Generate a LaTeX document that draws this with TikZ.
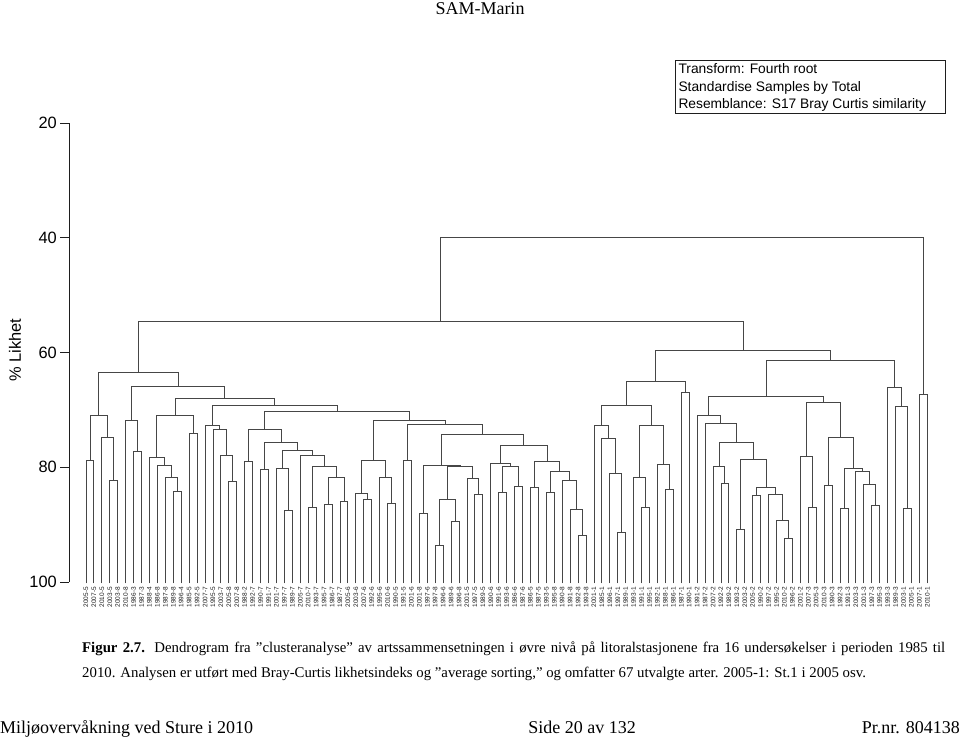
\documentclass[tikz,border=0pt]{standalone}
\usepackage{fontspec}
\setmainfont{Liberation Serif}
\setsansfont{Liberation Sans}
\usepackage{tikz}
\usetikzlibrary{calc}
\definecolor{dendline}{RGB}{70,70,70}
\definecolor{axisdark}{RGB}{30,30,30}
\tikzset{
  dendro/.style={draw=dendline, line width=0.9pt, line cap=rect},
  axisline/.style={draw=axisdark, line width=0.8pt},
  leaflabel/.style={font=\sffamily\fontsize{6.5}{7}\selectfont, rotate=90,
    anchor=east, inner sep=0pt, text=axisdark},
  ticklabel/.style={font=\sffamily\fontsize{16.4}{19}\selectfont, anchor=east,
    inner sep=0pt},
  legendtext/.style={font=\sffamily\fontsize{13.8}{17.5}\selectfont, align=left,
    inner sep=0pt, anchor=north west},
  pagetext/.style={font=\fontsize{18}{21}\selectfont, inner sep=0pt}
}
% one merge of the dendrogram: name, left child, right child, level (px from top)
\newcommand{\dmerge}[4]{%
  \coordinate (lev) at (0,#4);
  \draw[dendro] (#2) -- (#2 |- lev) -- (#3 |- lev) -- (#3);
  \coordinate (#1) at ($(#2 |- lev)!0.5!(#3 |- lev)$);
}

\begin{document}
\begin{tikzpicture}[x=1pt, y=-1pt]
  \fill[white] (0,0) rectangle (960,736);
  \useasboundingbox (0,0) rectangle (960,736);

  % ── page head ─────────────────────────────────────────────────────────────
  \node[pagetext, anchor=base] (header) at (480,14) {SAM-Marin};

  % ── legend box ────────────────────────────────────────────────────────────
  \node[draw=axisdark, line width=0.8pt, minimum width=270pt, minimum height=52.7pt,
        anchor=north west, inner sep=0pt] (legend) at (675,60) {};
  \node[legendtext] (legendtxt) at ([xshift=3.3pt,yshift=-3.3pt]legend.north west)
    {Transform: Fourth root\\Standardise Samples by Total\\Resemblance: S17 Bray Curtis similarity};

  % ── axis ──────────────────────────────────────────────────────────────────
  \draw[axisline] (69.3,123) -- (69.3,582);
  \foreach \v [count=\k from 0] in {20,40,60,80,100} {
    \draw[axisline] (60,{123+114.75*\k}) -- (69.3,{123+114.75*\k});
    \node[ticklabel] (t\v) at (57,{123+114.75*\k}) {\v};
  }
  \node[font=\sffamily\fontsize{16.4}{19}\selectfont, rotate=90, inner sep=0pt] (ylab) at (15,350) {\% Likhet};

  % ── leaves ────────────────────────────────────────────────────────────────
  \foreach \lab [count=\i from 0] in {
      2005-5,2007-5,2010-5,2003-5,2003-8,2010-8,1986-3,1987-3,1988-4,1986-8,
      1987-8,1989-8,1996-4,1985-5,1992-5,2007-7,1995-5,2003-7,2005-8,2007-8,
      1988-2,1992-7,1990-7,1991-7,2001-7,1997-7,1989-7,2005-7,2010-7,1993-7,
      1995-7,1986-7,1987-7,2005-6,2003-6,2007-6,1992-6,1995-6,2010-6,1990-5,
      1991-5,2001-6,2001-8,1997-6,1997-8,1996-6,1989-6,1996-8,2001-5,1997-5,
      1989-5,1990-6,1991-6,1993-6,1986-6,1987-6,1986-5,1987-5,1993-5,1995-8,
      1990-8,1991-8,1992-8,1993-8,2001-1,1985-1,1996-1,1997-1,1989-1,1993-1,
      1991-1,1995-1,1992-1,1988-1,1986-1,1987-1,1990-1,1991-2,1987-2,2007-2,
      1992-2,1989-2,1993-2,2003-2,2005-2,1990-2,1997-2,1995-2,2010-2,1996-2,
      2001-2,2007-3,2005-3,2010-3,1990-3,1992-3,1991-3,2003-3,2001-3,1997-3,
      1995-3,1993-3,1989-3,2003-1,2005-1,2007-1,2010-1} {
    \coordinate (n\i) at ({86+7.937*\i},583);
    \node[leaflabel] (l\i) at ({86+7.937*\i},587) {\lab};
  }

  % ── left cluster ──────────────────────────────────────────────────────────
  \dmerge{m01}{n0}{n1}{460}
  \dmerge{m34}{n3}{n4}{480}
  \dmerge{m234}{n2}{m34}{437.7}
  \dmerge{mA}{m01}{m234}{415}
  \dmerge{m67}{n6}{n7}{451.7}
  \dmerge{mB}{n5}{m67}{420}
  \dmerge{m1112}{n11}{n12}{491.7}
  \dmerge{m1012}{n10}{m1112}{477.3}
  \dmerge{m912}{n9}{m1012}{465}
  \dmerge{m812}{n8}{m912}{457.7}
  \dmerge{m1314}{n13}{n14}{433.3}
  \dmerge{mC}{m812}{m1314}{415}
  \dmerge{m1819}{n18}{n19}{481.7}
  \dmerge{m1719}{n17}{m1819}{455.7}
  \dmerge{m1619}{n16}{m1719}{429.3}
  \dmerge{m1519}{n15}{m1619}{425}
  \dmerge{m2021}{n20}{n21}{461}
  \dmerge{m2223}{n22}{n23}{469}
  \dmerge{m2526}{n25}{n26}{510}
  \dmerge{m2426}{n24}{m2526}{468.3}
  \dmerge{m2829}{n28}{n29}{507.7}
  \dmerge{m3031}{n30}{n31}{504}
  \dmerge{m3233}{n32}{n33}{501.7}
  \dmerge{m3033}{m3031}{m3233}{477}
  \dmerge{m2833}{m2829}{m3033}{466.7}
  \dmerge{m2733}{n27}{m2833}{455.7}
  \dmerge{m2433}{m2426}{m2733}{450}
  \dmerge{m2233}{m2223}{m2433}{442.7}
  \dmerge{mW1}{m2021}{m2233}{429}
  \dmerge{m3536}{n35}{n36}{499.3}
  \dmerge{m3436}{n34}{m3536}{493.3}
  \dmerge{m3839}{n38}{n39}{503}
  \dmerge{m3739}{n37}{m3839}{477.3}
  \dmerge{m3439}{m3436}{m3739}{460.7}
  \dmerge{m4041}{n40}{n41}{460}
  \dmerge{m4243}{n42}{n43}{513.3}
  \dmerge{m4445}{n44}{n45}{545}
  \dmerge{m4647}{n46}{n47}{521}
  \dmerge{m4447}{m4445}{m4647}{499}
  \dmerge{m4950}{n49}{n50}{494.3}
  \dmerge{m4850}{n48}{m4950}{478.3}
  \dmerge{m4450}{m4447}{m4850}{466}
  \dmerge{m4250}{m4243}{m4450}{465.3}
  \dmerge{m5253}{n52}{n53}{492.7}
  \dmerge{m5455}{n54}{n55}{486.7}
  \dmerge{m5255}{m5253}{m5455}{466.7}
  \dmerge{m5155}{n51}{m5255}{463.3}
  \dmerge{m5657}{n56}{n57}{487.3}
  \dmerge{m5859}{n58}{n59}{492.7}
  \dmerge{m6263}{n62}{n63}{535.3}
  \dmerge{m6163}{n61}{m6263}{509.3}
  \dmerge{m6063}{n60}{m6163}{480.7}
  \dmerge{m5863}{m5859}{m6063}{471}
  \dmerge{m5663}{m5657}{m5863}{461}
  \dmerge{m5163}{m5155}{m5663}{445}
  \dmerge{m4263}{m4250}{m5163}{434.3}
  \dmerge{m4063}{m4041}{m4263}{424.3}
  \dmerge{mW2}{m3439}{m4063}{420}
  \dmerge{mZ}{mW1}{mW2}{411}
  \dmerge{mY}{m1519}{mZ}{405}
  \dmerge{mX}{mC}{mY}{398.3}
  \dmerge{mBX}{mB}{mX}{386.7}
  \dmerge{mL}{mA}{mBX}{372.3}

  % ── right cluster ─────────────────────────────────────────────────────────
  \dmerge{m6768}{n67}{n68}{532.7}
  \dmerge{m6668}{n66}{m6768}{473.3}
  \dmerge{m6568}{n65}{m6668}{438.7}
  \dmerge{m6468}{n64}{m6568}{425.7}
  \dmerge{m7071}{n70}{n71}{507.3}
  \dmerge{m6971}{n69}{m7071}{477.3}
  \dmerge{m7374}{n73}{n74}{489.7}
  \dmerge{m7274}{n72}{m7374}{464.3}
  \dmerge{m6974}{m6971}{m7274}{425}
  \dmerge{m6474}{m6468}{m6974}{405}
  \dmerge{m7576}{n75}{n76}{392.3}
  \dmerge{m6476}{m6474}{m7576}{381}
  \dmerge{m8081}{n80}{n81}{483.3}
  \dmerge{m7981}{n79}{m8081}{466}
  \dmerge{m8283}{n82}{n83}{529}
  \dmerge{m8485}{n84}{n85}{495.7}
  \dmerge{m8889}{n88}{n89}{538}
  \dmerge{m8789}{n87}{m8889}{520}
  \dmerge{m8689}{n86}{m8789}{494.3}
  \dmerge{m8489}{m8485}{m8689}{487.7}
  \dmerge{m8289}{m8283}{m8489}{459}
  \dmerge{m7989}{m7981}{m8289}{442.7}
  \dmerge{m7889}{n78}{m7989}{423.3}
  \dmerge{m7789}{n77}{m7889}{415}
  \dmerge{m9192}{n91}{n92}{507.7}
  \dmerge{m9092}{n90}{m9192}{456}
  \dmerge{m9394}{n93}{n94}{485.7}
  \dmerge{m9596}{n95}{n96}{508.7}
  \dmerge{m99100}{n99}{n100}{505.3}
  \dmerge{m98100}{n98}{m99100}{484.7}
  \dmerge{m97100}{n97}{m98100}{471}
  \dmerge{m95100}{m9596}{m97100}{468}
  \dmerge{m93100}{m9394}{m95100}{437.7}
  \dmerge{m90100}{m9092}{m93100}{402.3}
  \dmerge{m77100}{m7789}{m90100}{396.7}
  \dmerge{m103104}{n103}{n104}{508}
  \dmerge{m102104}{n102}{m103104}{406.7}
  \dmerge{m101104}{n101}{m102104}{387.7}
  \dmerge{m77104}{m77100}{m101104}{360.7}
  \dmerge{m64104}{m6476}{m77104}{350.7}

  % ── top levels ────────────────────────────────────────────────────────────
  \dmerge{mLR}{mL}{m64104}{321.7}
  \dmerge{m105106}{n105}{n106}{394}
  \dmerge{root}{mLR}{m105106}{237}

  % ── caption ───────────────────────────────────────────────────────────────
  \node[anchor=north west, text width=863pt, align=justify, inner sep=0pt,
        font=\fontsize{14.8}{25}\selectfont] (caption) at (82,641.5)
    {\textbf{Figur 2.7.} Dendrogram fra ”clusteranalyse” av artssammensetningen i øvre nivå på litoralstasjonene fra 16 undersøkelser i perioden 1985 til\linebreak
     2010. Analysen er utført med Bray-Curtis likhetsindeks og ”average sorting,” og omfatter 67 utvalgte arter. 2005-1: St.1 i 2005 osv.};

  % ── page foot ─────────────────────────────────────────────────────────────
  \node[pagetext, anchor=base west] (footl) at (0,733) {Miljøovervåkning ved Sture i 2010};
  \node[pagetext, anchor=base] (footc) at (582,733) {Side 20 av 132};
  \node[pagetext, anchor=base east] (footr) at (960,733) {Pr.nr. 804138};
\end{tikzpicture}
\end{document}
